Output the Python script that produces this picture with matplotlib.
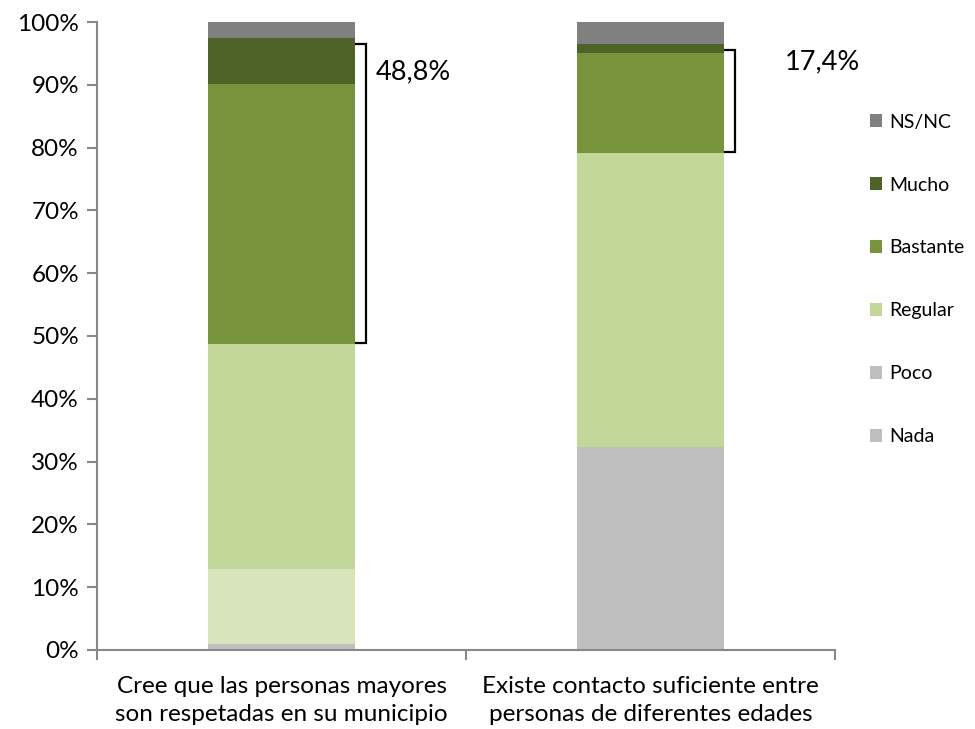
import matplotlib
matplotlib.use("Agg")
import matplotlib.pyplot as plt
from matplotlib.patches import Patch
import numpy as np

plt.rcParams['font.family'] = ['Lato', 'DejaVu Sans']

categories = ["Cree que las personas mayores\nson respetadas en su municipio",
              "Existe contacto suficiente entre\npersonas de diferentes edades"]
series = ["Nada", "Poco", "Regular", "Bastante", "Mucho", "NS/NC"]
values = {
    "Nada":     [1.0, 4.8],
    "Poco":     [11.9, 27.6],
    "Regular":  [35.8, 46.7],
    "Bastante": [41.4, 16.0],
    "Mucho":    [7.4, 1.4],
    "NS/NC":    [2.5, 3.5],
}
bracket_labels = ["48,8%", "17,4%"]

# colours per bar (Poco is light green in the first bar)
colors = {
    "Nada":     ["#BFBFBF", "#BFBFBF"],
    "Poco":     ["#D8E4BC", "#BFBFBF"],
    "Regular":  ["#C4D79B", "#C4D79B"],
    "Bastante": ["#77933C", "#77933C"],
    "Mucho":    ["#4F6228", "#4F6228"],
    "NS/NC":    ["#808080", "#808080"],
}
legend_colors = {"Nada": "#BFBFBF", "Poco": "#BFBFBF", "Regular": "#C4D79B",
                 "Bastante": "#77933C", "Mucho": "#4F6228", "NS/NC": "#808080"}

fig = plt.figure(figsize=(9.75, 7.29), dpi=100)
ax = fig.add_axes([0.0995, 0.1084, 0.7569, 0.8614])

x = np.arange(len(categories))
width = 0.4
bottom = np.zeros(len(categories))
for s in series:
    v = np.array(values[s])
    ax.bar(x, v, width, bottom=bottom, color=colors[s][:len(x)], linewidth=0)
    bottom += v

# brackets around Bastante + Mucho
cum_low = np.array(values["Nada"]) + np.array(values["Poco"]) + np.array(values["Regular"])
cum_high = cum_low + np.array(values["Bastante"]) + np.array(values["Mucho"])
label_y = [92.0, 93.6]
label_dx = [0.025, 0.135]
for i in range(len(x)):
    xr = x[i] + width / 2 + 0.03
    xl = x[i] + width / 2 + 0.003
    lo, hi = cum_low[i] + 0.2, cum_high[i] - 1.0
    ax.plot([xl, xr, xr, xl], [hi, hi, lo, lo], color="black", lw=1.6,
            solid_joinstyle="miter", clip_on=False)
    ax.text(xr + label_dx[i], label_y[i], bracket_labels[i], fontsize=19.5,
            va="center", ha="left")

ax.set_xlim(-0.5, 1.5)
ax.set_ylim(0, 100)
ax.set_yticks(np.arange(0, 101, 10))
ax.set_yticklabels([f"{t}%" for t in range(0, 101, 10)], fontsize=17.5)
ax.set_xticks(x)
ax.set_xticklabels(categories, fontsize=17.5, linespacing=1.38)
ax.tick_params(axis="x", length=0, pad=19)
ax.set_xticks([-0.5, 0.5, 1.5], minor=True)
ax.tick_params(axis="x", which="minor", length=7, color="#888888", width=1.5)
ax.tick_params(axis="y", length=7, color="#888888", width=1.5, pad=6)

for sp in ["top", "right"]:
    ax.spines[sp].set_visible(False)
for sp in ["left", "bottom"]:
    ax.spines[sp].set_color("#888888")
    ax.spines[sp].set_linewidth(1.5)

handles = [Patch(facecolor=legend_colors[s], label=s) for s in series[::-1]]
ax.legend(handles=handles, loc="upper left", bbox_to_anchor=(1.024, 0.882),
          frameon=False, fontsize=14, labelspacing=2.36, handlelength=0.62,
          handleheight=0.62, handletextpad=0.35)

fig.savefig("out.png", dpi=100)
